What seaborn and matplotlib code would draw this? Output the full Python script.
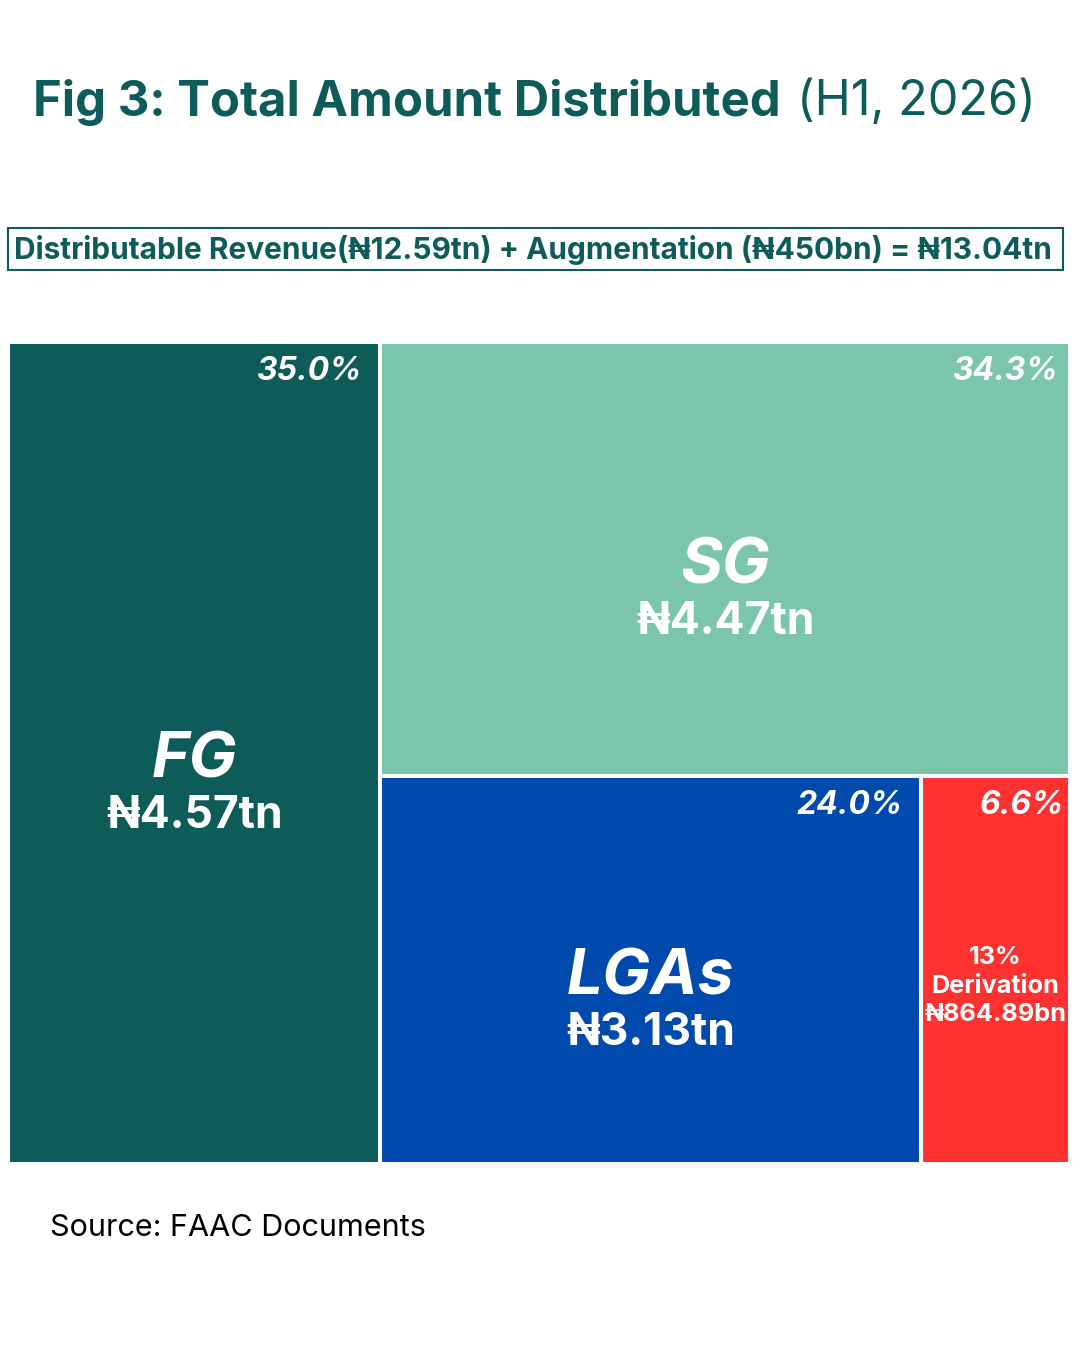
import matplotlib.pyplot as plt
import seaborn as sns

# data
groups = ['FG', 'SG', 'LGAs', '13%\nDerivation']
amounts = [4.57, 4.47, 3.13, 0.86489]  # trillion naira
amount_labels = ['₦4.57tn', '₦4.47tn', '₦3.13tn', '₦864.89bn']
shares = ['35.0%', '34.3%', '24.0%', '6.6%']
colors = ['#0d5c5a', '#7bc6ab', '#004aad', '#ff3131']

sns.set_theme(style='white')
plt.rcParams['font.family'] = ['Inter', 'DejaVu Sans']

fig = plt.figure(figsize=(10.8, 13.5), dpi=100)
ax = fig.add_axes([0, 0, 1, 1])
ax.set_xlim(0, 1080)
ax.set_ylim(1350, 0)
ax.axis('off')

# treemap layout: FG column, then SG row on top, LGAs + derivation below
x0, y0, W, H = 8, 342, 1062, 822
total = sum(amounts)
w_fg = W * amounts[0] / total
rest = sum(amounts[1:])
h_sg = H * amounts[1] / rest
bottom = amounts[2] + amounts[3]
w_lga = (W - w_fg) * amounts[2] / bottom
rects = [
    (x0, y0, w_fg, H),
    (x0 + w_fg, y0, W - w_fg, h_sg),
    (x0 + w_fg, y0 + h_sg, w_lga, H - h_sg),
    (x0 + w_fg + w_lga, y0 + h_sg, W - w_fg - w_lga, H - h_sg),
]

for (rx, ry, rw, rh), c in zip(rects, colors):
    ax.bar(rx, rh, width=rw, bottom=ry, align='edge', color=c,
           edgecolor='white', linewidth=2.9)

pct_pad = [18, 12, 18, 6]
for i, (rx, ry, rw, rh) in enumerate(rects):
    cx, cy = rx + rw / 2, ry + rh / 2
    ax.text(rx + rw - pct_pad[i], ry + 14, shares[i], ha='right', va='top',
            fontsize=23, fontweight='bold', fontstyle='italic', color='white')
    if i < 3:
        ax.text(cx, cy + 8, groups[i], ha='center', va='center',
                fontsize=46, fontweight='bold', fontstyle='italic', color='white')
        ax.text(cx, cy + 63, amount_labels[i], ha='center', va='center',
                fontsize=32, fontweight='bold', color='white')
    else:
        ax.text(cx, cy + 16, groups[i] + '\n' + amount_labels[i],
                ha='center', va='center', fontsize=18.2, fontweight='bold',
                color='white', linespacing=1.32)

teal = '#0d5c5a'
ax.text(33, 102, 'Fig 3: Total Amount Distributed', ha='left', va='center',
        fontsize=35.3, fontweight='bold', color=teal)
ax.text(797, 102, '(H1, 2026)', ha='left', va='center',
        fontsize=35, color=teal)

ax.add_patch(plt.Rectangle((8, 228), 1055, 42, fill=False,
                           edgecolor=teal, linewidth=1.5))
ax.text(533, 250, 'Distributable Revenue(₦12.59tn) + Augmentation (₦450bn) = ₦13.04tn',
        ha='center', va='center', fontsize=21.5, fontweight='bold', color=teal)

ax.text(50, 1228, 'Source: FAAC Documents', ha='left', va='center',
        fontsize=22, color='black')

fig.savefig('out.png', dpi=100, facecolor='white')
